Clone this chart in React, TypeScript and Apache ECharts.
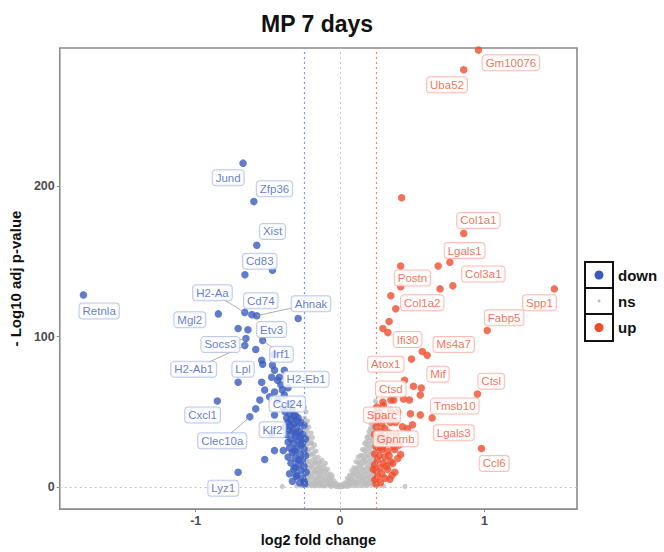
import React, { useEffect, useRef } from "react";
import * as echarts from "echarts";

// ---------- data ----------
const xTicks = [-1, 0, 1];
const yTicks = [0, 100, 200];
const fcThresholds = [-0.25, 0.25];
const legendItems = ["down", "ns", "up"];

// labelled down-regulated genes: [gene, log2FC, -log10 padj]
const downLabelled: [string, number, number][] = [
  ["Jund", -0.672, 215],
  ["Zfp36", -0.597, 189.5],
  ["Xist", -0.577, 160.5],
  ["Cd83", -0.659, 141],
  ["H2-Aa", -0.66, 116],
  ["Cd74", -0.611, 114.5],
  ["Ahnak", -0.577, 113.8],
  ["Retnla", -1.778, 127.6],
  ["Mgl2", -0.843, 115],
  ["Etv3", -0.638, 104.5],
  ["Socs3", -0.652, 98.7],
  ["Irf1", -0.536, 97.4],
  ["H2-Ab1", -0.66, 94],
  ["Lpl", -0.706, 69.7],
  ["H2-Eb1", -0.42, 73],
  ["Ccl24", -0.488, 60],
  ["Cxcl1", -0.85, 57.2],
  ["Klf2", -0.474, 35.5],
  ["Clec10a", -0.625, 46.7],
  ["Lyz1", -0.706, 10],
];
// label anchor positions (data units) for the down genes
const downLabelPos: [string, number, number][] = [
  ["Jund", -0.775, 205.3],
  ["Zfp36", -0.454, 198],
  ["Xist", -0.468, 169.7],
  ["Cd83", -0.556, 150],
  ["H2-Aa", -0.884, 129],
  ["Cd74", -0.549, 123.7],
  ["Ahnak", -0.201, 121.7],
  ["Retnla", -1.669, 117],
  ["Mgl2", -1.041, 111.2],
  ["Etv3", -0.474, 104.6],
  ["Socs3", -0.829, 94.7],
  ["Irf1", -0.406, 88.2],
  ["H2-Ab1", -1.014, 78.3],
  ["Lpl", -0.672, 78.3],
  ["H2-Eb1", -0.235, 71.7],
  ["Ccl24", -0.365, 55.3],
  ["Cxcl1", -0.952, 48],
  ["Klf2", -0.468, 38.2],
  ["Clec10a", -0.816, 30.9],
  ["Lyz1", -0.809, -0.7],
];
const downOther: [number, number][] = [
  [-0.468, 144], [-0.706, 105.3], [-0.29, 112], [-0.584, 91.4], [-0.543, 84.2],
  [-0.536, 81.6], [-0.468, 81], [-0.454, 77.6], [-0.386, 77.6], [-0.474, 73],
  [-0.433, 71], [-0.543, 69.7], [-0.522, 64.5], [-0.454, 63.2], [-0.4, 64.5],
  [-0.386, 61.2], [-0.556, 57.9], [-0.584, 52], [-0.454, 48], [-0.522, 18.4],
  [-0.454, 24.3], [-0.393, 24.3], [-0.304, 7.2], [-0.249, 3.9], [-0.46, 88],
  [-0.41, 68], [-0.36, 66], [-0.43, 58], [-0.35, 55],
  [-0.38, 50], [-0.35, 49], [-0.33, 51], [-0.31, 48], [-0.37, 46], [-0.34, 45],
  [-0.29, 46], [-0.36, 43], [-0.32, 42], [-0.27, 43], [-0.38, 40], [-0.3, 40],
  [-0.25, 41], [-0.35, 38], [-0.33, 37], [-0.28, 37], [-0.37, 35], [-0.31, 34],
  [-0.26, 35], [-0.34, 32], [-0.29, 31], [-0.24, 32], [-0.36, 30], [-0.32, 29],
  [-0.27, 28], [-0.35, 26], [-0.3, 26], [-0.25, 25], [-0.33, 23], [-0.28, 22],
  [-0.24, 21], [-0.36, 20], [-0.31, 19], [-0.26, 18], [-0.34, 16], [-0.29, 15],
  [-0.25, 14], [-0.32, 12], [-0.27, 11], [-0.235, 10], [-0.35, 9], [-0.3, 8],
  [-0.26, 6], [-0.33, 4], [-0.28, 3], [-0.245, 2], [-0.31, 13], [-0.285, 18],
  [-0.315, 24], [-0.305, 36], [-0.275, 33], [-0.345, 41], [-0.295, 44],
  [-0.26, 29], [-0.32, 47], [-0.39, 52],
];

// labelled up-regulated genes
const upLabelled: [string, number, number][] = [
  ["Gm10076", 0.959, 290],
  ["Uba52", 0.857, 277],
  ["Col1a1", 0.857, 168.4],
  ["Lgals1", 0.761, 149.3],
  ["Col3a1", 0.782, 133.6],
  ["Postn", 0.42, 146.7],
  ["Col1a2", 0.352, 127],
  ["Spp1", 1.485, 131.6],
  ["Fabp5", 1.02, 104],
  ["Ifi30", 0.297, 105.3],
  ["Ms4a7", 0.57, 90],
  ["Atox1", 0.495, 85],
  ["Mif", 0.563, 65.8],
  ["Ctsd", 0.509, 67],
  ["Ctsl", 0.952, 61.8],
  ["Tmsb10", 0.638, 46],
  ["Sparc", 0.4, 50],
  ["Lgals3", 0.556, 48],
  ["Gpnmb", 0.297, 27],
  ["Ccl6", 0.98, 25.7],
];
const upLabelPos: [string, number, number][] = [
  ["Gm10076", 1.184, 281.6],
  ["Uba52", 0.741, 267],
  ["Col1a1", 0.959, 177],
  ["Lgals1", 0.863, 157],
  ["Col3a1", 0.993, 141.4],
  ["Postn", 0.502, 138.8],
  ["Col1a2", 0.57, 122.4],
  ["Spp1", 1.382, 122.4],
  ["Fabp5", 1.137, 112.5],
  ["Ifi30", 0.468, 98],
  ["Ms4a7", 0.788, 94.7],
  ["Atox1", 0.317, 81.6],
  ["Mif", 0.679, 75],
  ["Ctsd", 0.352, 65.1],
  ["Ctsl", 1.048, 70.4],
  ["Tmsb10", 0.795, 53.9],
  ["Sparc", 0.29, 48],
  ["Lgals3", 0.788, 36.2],
  ["Gpnmb", 0.386, 32.2],
  ["Ccl6", 1.068, 15.8],
];
const upOther: [number, number][] = [
  [0.427, 192], [0.68, 146.7], [0.693, 131.6], [0.42, 133], [0.386, 118.4],
  [0.34, 110], [0.331, 102.6], [0.604, 87.5], [0.556, 61.2], [0.447, 71],
  [0.372, 57.9], [0.481, 57.9], [0.44, 58.6], [0.488, 48.7], [0.502, 41.4],
  [0.468, 38.8], [0.433, 40.1], [0.42, 21.7], [0.379, 25], [0.365, 15.8],
  [0.345, 5.3], [0.297, 56.6], [0.352, 57.9],
  [0.24, 48], [0.27, 50], [0.3, 47], [0.33, 45], [0.26, 44], [0.29, 42],
  [0.35, 43], [0.25, 40], [0.31, 39], [0.28, 37], [0.34, 36], [0.24, 35],
  [0.27, 33], [0.32, 32], [0.26, 30], [0.3, 29], [0.36, 30], [0.25, 27],
  [0.29, 25], [0.33, 24], [0.24, 22], [0.27, 21], [0.31, 20], [0.26, 18],
  [0.3, 16], [0.35, 17], [0.24, 15], [0.28, 13], [0.33, 12], [0.25, 11],
  [0.29, 9], [0.26, 7], [0.31, 6], [0.24, 5], [0.28, 3], [0.25, 2],
  [0.38, 10], [0.4, 19], [0.37, 27], [0.39, 35], [0.27, 26], [0.32, 14],
  [0.29, 34], [0.34, 21], [0.23, 12], [0.36, 8], [0.28, 45], [0.41, 28],
  [0.385, 43], [0.255, 53], [0.3, 54], [0.35, 51],
];

// not significant genes
const nsPoints: [number, number][] = [
  [-0.245, 2], [-0.245, 8], [-0.245, 15], [-0.245, 22], [-0.245, 30], [-0.245, 38], [-0.245, 46], [-0.245, 53],
  [-0.235, 4], [-0.235, 11], [-0.235, 19], [-0.235, 27], [-0.235, 35], [-0.235, 43], [-0.235, 50],
  [-0.225, 1], [-0.225, 6], [-0.225, 13], [-0.225, 21], [-0.225, 29], [-0.225, 37], [-0.225, 44],
  [-0.215, 3], [-0.215, 9], [-0.215, 17], [-0.215, 25], [-0.215, 33], [-0.215, 40],
  [-0.2, 2], [-0.2, 7], [-0.2, 14], [-0.2, 22], [-0.2, 30], [-0.2, 36],
  [-0.19, 4], [-0.19, 11], [-0.19, 18], [-0.19, 26], [-0.19, 33],
  [-0.175, 1], [-0.175, 6], [-0.175, 13], [-0.175, 20], [-0.175, 28],
  [-0.165, 3], [-0.165, 9], [-0.165, 16], [-0.165, 24],
  [-0.15, 2], [-0.15, 7], [-0.15, 13], [-0.15, 20],
  [-0.14, 4], [-0.14, 10], [-0.14, 17],
  [-0.125, 1], [-0.125, 6], [-0.125, 12], [-0.125, 18],
  [-0.11, 3], [-0.11, 8], [-0.11, 14],
  [-0.1, 1], [-0.1, 5], [-0.1, 11], [-0.1, 16],
  [-0.085, 2], [-0.085, 7], [-0.085, 12],
  [-0.07, 1], [-0.07, 4], [-0.07, 9],
  [-0.055, 2], [-0.055, 6], [-0.055, 8],
  [-0.04, 1], [-0.04, 4],
  [-0.025, 0.5], [-0.025, 2.5],
  [-0.01, 0.3], [-0.01, 1.5],
  [0.005, 0.2], [0.005, 1],
  [0.02, 0.4], [0.02, 2],
  [0.035, 1], [0.035, 3],
  [0.05, 0.5], [0.05, 3], [0.05, 6],
  [0.065, 1], [0.065, 4], [0.065, 8],
  [0.08, 2], [0.08, 6], [0.08, 11],
  [0.095, 1], [0.095, 4], [0.095, 9], [0.095, 13],
  [0.11, 2], [0.11, 7], [0.11, 12], [0.11, 17],
  [0.125, 1], [0.125, 5], [0.125, 10], [0.125, 16], [0.125, 20],
  [0.14, 3], [0.14, 8], [0.14, 14], [0.14, 21],
  [0.155, 1], [0.155, 6], [0.155, 12], [0.155, 18], [0.155, 25],
  [0.17, 3], [0.17, 9], [0.17, 16], [0.17, 22], [0.17, 29],
  [0.185, 1], [0.185, 7], [0.185, 13], [0.185, 20], [0.185, 27], [0.185, 33],
  [0.2, 4], [0.2, 10], [0.2, 17], [0.2, 24], [0.2, 31], [0.2, 37],
  [0.215, 2], [0.215, 8], [0.215, 15], [0.215, 22], [0.215, 29], [0.215, 36], [0.215, 42],
  [0.23, 5], [0.23, 12], [0.23, 19], [0.23, 27], [0.23, 34], [0.23, 41], [0.23, 47],
  [0.245, 2], [0.245, 9], [0.245, 17], [0.245, 25], [0.245, 33], [0.245, 42], [0.245, 50], [0.245, 57],
  [-0.3, 0.8], [-0.4, 0.5], [0.45, 0.5], [0.3, 0.9], [-0.27, 1],
  [-0.24, 5], [-0.24, 12], [-0.24, 26], [-0.24, 34], [-0.24, 41], [-0.23, 8], [-0.23, 16],
  [-0.23, 23], [-0.23, 31], [-0.23, 39], [-0.22, 3], [-0.22, 10], [-0.22, 17], [-0.22, 25],
  [-0.22, 33], [-0.21, 6], [-0.21, 13], [-0.21, 21], [-0.21, 29], [-0.195, 1], [-0.195, 8],
  [-0.195, 15], [-0.195, 22], [-0.195, 29], [-0.18, 3], [-0.18, 10], [-0.18, 16], [-0.18, 23],
  [-0.17, 1], [-0.17, 5], [-0.17, 11], [-0.17, 18], [-0.155, 4], [-0.155, 10], [-0.155, 16],
  [-0.145, 1], [-0.145, 7], [-0.145, 13], [-0.13, 3], [-0.13, 9], [-0.13, 15], [-0.115, 1],
  [-0.115, 5], [-0.115, 11], [-0.09, 4], [-0.09, 9], [-0.075, 2], [-0.075, 6], [-0.06, 0.5],
  [-0.06, 4], [-0.045, 2], [-0.03, 1], [-0.015, 0.6], [0.01, 0.5], [0.03, 1.5], [0.045, 2],
  [0.06, 2], [0.06, 5], [0.075, 3], [0.075, 7], [0.09, 5], [0.09, 9], [0.105, 3], [0.105, 10],
  [0.12, 3], [0.12, 8], [0.12, 13], [0.135, 6], [0.135, 11], [0.135, 17], [0.15, 4], [0.15, 9],
  [0.15, 15], [0.15, 21], [0.165, 2], [0.165, 6], [0.165, 12], [0.165, 19], [0.165, 25],
  [0.18, 4], [0.18, 10], [0.18, 17], [0.18, 24], [0.18, 30], [0.195, 2], [0.195, 7], [0.195, 14],
  [0.195, 21], [0.195, 28], [0.195, 34], [0.21, 5], [0.21, 12], [0.21, 19], [0.21, 26],
  [0.21, 33], [0.21, 39], [0.225, 2], [0.225, 9], [0.225, 16], [0.225, 23], [0.225, 31],
  [0.225, 38], [0.225, 44], [0.24, 6], [0.24, 14], [0.24, 21], [0.24, 29], [0.24, 37],
  [0.24, 46], [0.24, 53],
];

// genes whose repelled label is joined to its point by a segment
const segmentGenes = ["H2-Aa", "Ahnak", "H2-Ab1", "Clec10a", "Irf1", "Socs3"];

// ---------- styles ----------
const C_DOWN = "#3A5BBE";
const C_UP = "#EF4E2E";
const C_NS = "#BDBDBD";
const FONT = "Liberation Sans, Arial, Helvetica, sans-serif";

export default function App() {
  const ref = useRef<HTMLDivElement>(null);

  useEffect(() => {
    if (!ref.current) return;
    const chart = echarts.init(ref.current, null, { renderer: "svg" });

    const downData = [...downLabelled.map((d) => [d[1], d[2]]), ...downOther];
    const upData = [...upLabelled.map((d) => [d[1], d[2]]), ...upOther];

    const segs: { coords: number[][] }[] = [];
    segmentGenes.forEach((g) => {
      const p = downLabelled.find((d) => d[0] === g) || upLabelled.find((d) => d[0] === g);
      const l = downLabelPos.find((d) => d[0] === g) || upLabelPos.find((d) => d[0] === g);
      if (p && l) segs.push({ coords: [[l[1], l[2]], [p[1], p[2]]] });
    });

    const labelSeries = (pos: [string, number, number][], color: string, border: string) => ({
      type: "scatter",
      silent: true,
      z: 10,
      symbolSize: 0,
      data: pos.map(([n, x, y]) => ({ name: n, value: [x, y] })),
      label: {
        show: true,
        position: "inside",
        formatter: "{b}",
        color,
        fontSize: 11.5,
        fontFamily: FONT,
        backgroundColor: "#ffffff",
        borderColor: border,
        borderWidth: 1,
        borderRadius: 3,
        padding: [1, 3, 1, 3],
        lineHeight: 13,
      },
    });

    const axisLabelStyle = {
      color: "#4d4d4d",
      fontWeight: "bold",
      fontSize: 12.5,
      fontFamily: FONT,
    };

    chart.setOption({
      animation: false,
      textStyle: { fontFamily: FONT },
      title: {
        text: "MP 7 days",
        left: 256,
        top: 7,
        textStyle: { fontSize: 23, fontWeight: "bold", color: "#111", fontFamily: FONT },
      },
      grid: {
        left: 52,
        right: 87,
        top: 48,
        bottom: 39,
        show: true,
        borderColor: "#8a8a8a",
        borderWidth: 1.6,
        backgroundColor: "transparent",
      },
      xAxis: {
        type: "value",
        min: -1.942,
        max: 1.642,
        name: "log2 fold change",
        nameLocation: "middle",
        nameGap: 20,
        nameTextStyle: { fontWeight: "bold", fontSize: 14.5, color: "#111", fontFamily: FONT },
        axisLine: { show: false, onZero: false },
        splitLine: { show: false },
        axisTick: { show: true, length: 3, lineStyle: { color: "#8a8a8a" }, customValues: xTicks },
        axisLabel: { ...axisLabelStyle, margin: 5, customValues: xTicks },
      },
      yAxis: {
        type: "value",
        min: -14.5,
        max: 291.4,
        name: "- Log10 adj p-value",
        nameLocation: "middle",
        nameGap: 35,
        nameTextStyle: { fontWeight: "bold", fontSize: 15, color: "#111", fontFamily: FONT },
        axisLine: { show: false, onZero: false },
        splitLine: { show: false },
        axisTick: { show: true, length: 3, lineStyle: { color: "#8a8a8a" }, customValues: yTicks },
        axisLabel: { ...axisLabelStyle, margin: 5, customValues: yTicks },
      },
      series: [
        {
          type: "scatter",
          name: "ns",
          data: nsPoints,
          symbolSize: 5,
          itemStyle: { color: C_NS },
          z: 2,
          silent: true,
          markLine: {
            silent: true,
            symbol: "none",
            label: { show: false },
            data: [
              { xAxis: 0, lineStyle: { color: "#c4c4c4", type: [2, 3], width: 1 } },
              { yAxis: 0, lineStyle: { color: "#c4c4c4", type: [2, 3], width: 1 } },
              { xAxis: fcThresholds[0], lineStyle: { color: "#7F93D8", type: [2, 3], width: 1.2 } },
              { xAxis: fcThresholds[1], lineStyle: { color: "#F2836A", type: [2, 3], width: 1.2 } },
            ],
          },
        },
        {
          type: "scatter",
          name: "down",
          data: downData,
          symbolSize: 7.5,
          itemStyle: { color: C_DOWN },
          z: 3,
        },
        {
          type: "scatter",
          name: "up",
          data: upData,
          symbolSize: 7.5,
          itemStyle: { color: C_UP },
          z: 3,
        },
        {
          type: "lines",
          coordinateSystem: "cartesian2d",
          silent: true,
          z: 5,
          data: segs,
          lineStyle: { color: "#9a9a9a", width: 0.8, opacity: 1 },
        },
        labelSeries(downLabelPos, C_DOWN, "#AEBBE6"),
        labelSeries(upLabelPos, C_UP, "#F6AF9F"),
      ],
      graphic: [
        {
          type: "group",
          left: 584,
          top: 261,
          children: [
            { type: "rect", shape: { x: 0, y: 0, width: 28, height: 26 }, style: { fill: "#fff", stroke: "#111", lineWidth: 2 } },
            { type: "rect", shape: { x: 0, y: 26, width: 28, height: 26 }, style: { fill: "#fff", stroke: "#111", lineWidth: 2 } },
            { type: "rect", shape: { x: 0, y: 52, width: 28, height: 27 }, style: { fill: "#fff", stroke: "#111", lineWidth: 2 } },
            { type: "circle", shape: { cx: 14, cy: 13, r: 4.5 }, style: { fill: C_DOWN } },
            { type: "circle", shape: { cx: 14, cy: 39, r: 1.5 }, style: { fill: C_NS } },
            { type: "circle", shape: { cx: 14, cy: 65.5, r: 4.5 }, style: { fill: C_UP } },
            { type: "text", x: 33, y: 13, style: { text: legendItems[0], fontSize: 15, fontWeight: "bold", fill: "#111", verticalAlign: "middle", fontFamily: FONT } },
            { type: "text", x: 33, y: 39, style: { text: legendItems[1], fontSize: 15, fontWeight: "bold", fill: "#111", verticalAlign: "middle", fontFamily: FONT } },
            { type: "text", x: 33, y: 65.5, style: { text: legendItems[2], fontSize: 15, fontWeight: "bold", fill: "#111", verticalAlign: "middle", fontFamily: FONT } },
          ],
        },
      ],
    });

    return () => chart.dispose();
  }, []);

  return <div ref={ref} style={{ width: 664, height: 552, position: "absolute", left: 0, top: 0 }} />;
}
